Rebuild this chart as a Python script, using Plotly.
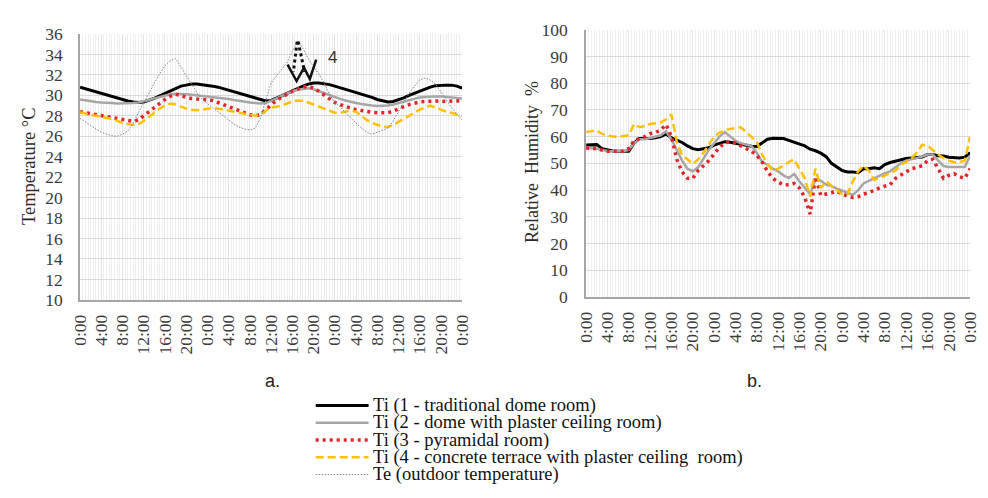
import plotly.graph_objects as go

# ---------------- data ----------------
hours = list(range(73))                     # 3 days, hourly (0 .. 72 h)
tick_hours = list(range(0, 73, 4))
tick_labels = ["0:00", "4:00", "8:00", "12:00", "16:00", "20:00"] * 3 + ["0:00"]

series_names = [
    "Ti (1 - traditional dome room)",
    "Ti (2 - dome with plaster ceiling room)",
    "Ti (3 - pyramidal room)",
    "Ti (4 - concrete terrace with plaster ceiling  room)",
    "Te (outdoor temperature)",
]

# (a) temperature, deg C
temp_ti1 = [30.8, 30.65, 30.5, 30.35, 30.2, 30.05, 29.9, 29.75, 29.55, 29.45, 29.35, 29.3, 29.35, 29.5, 29.7,
            29.95, 30.2, 30.45, 30.7, 30.9, 31.0, 31.1, 31.1, 31.05, 31.0, 30.9, 30.8, 30.65, 30.5, 30.35,
            30.2, 30.05, 29.9, 29.75, 29.6, 29.45, 29.5, 29.7, 29.95, 30.2, 30.45, 30.7, 30.9, 31.1, 31.2,
            31.2, 31.15, 31.05, 30.9, 30.75, 30.6, 30.45, 30.3, 30.1, 29.95, 29.8, 29.6, 29.45, 29.35, 29.4,
            29.55, 29.75, 30.0, 30.2, 30.45, 30.65, 30.8, 30.95, 31.0, 31.0, 31.0, 30.9, 30.7]
temp_ti2 = [29.6, 29.5, 29.4, 29.35, 29.3, 29.3, 29.25, 29.2, 29.2, 29.2, 29.25, 29.3, 29.4, 29.55, 29.7,
            29.85, 30.0, 30.1, 30.15, 30.15, 30.1, 30.05, 30.0, 29.95, 29.9, 29.85, 29.8, 29.75, 29.65, 29.55,
            29.45, 29.4, 29.3, 29.25, 29.2, 29.25, 29.45, 29.7, 29.95, 30.2, 30.4, 30.55, 30.65, 30.7, 30.6,
            30.4, 30.2, 30.0, 29.8, 29.65, 29.5, 29.35, 29.25, 29.15, 29.05, 29.0, 28.95, 28.95, 29.0, 29.1,
            29.25, 29.4, 29.55, 29.7, 29.8, 29.85, 29.9, 29.9, 29.9, 29.85, 29.8, 29.75, 29.7]
temp_ti3 = [28.4, 28.3, 28.2, 28.1, 28.0, 27.9, 27.8, 27.7, 27.6, 27.5, 27.45, 27.6, 28.0, 28.5, 28.9,
            29.3, 29.6, 29.9, 30.1, 30.0, 29.8, 29.7, 29.65, 29.6, 29.6, 29.5, 29.3, 29.1, 28.9, 28.7,
            28.5, 28.3, 28.1, 28.0, 28.1, 28.6, 29.1, 29.5, 29.8, 30.1, 30.4, 30.6, 30.8, 30.9, 30.7,
            30.4, 30.0, 29.6, 29.3, 29.1, 28.9, 28.75, 28.6, 28.5, 28.4, 28.35, 28.3, 28.3, 28.3, 28.45,
            28.7, 28.9, 29.1, 29.25, 29.35, 29.4, 29.45, 29.45, 29.4, 29.4, 29.45, 29.45, 29.5]
temp_ti4 = [28.35, 28.2, 28.1, 28.0, 27.9, 27.8, 27.7, 27.5, 27.3, 27.2, 27.1, 27.2, 27.5, 27.9, 28.3,
            28.7, 29.0, 29.2, 29.1, 28.9, 28.7, 28.6, 28.55, 28.6, 28.7, 28.75, 28.7, 28.6, 28.45, 28.35,
            28.3, 28.2, 28.1, 28.0, 28.1, 28.5, 28.8, 28.9, 29.0, 29.2, 29.4, 29.5, 29.45, 29.3, 29.1,
            28.9, 28.7, 28.5, 28.3, 28.3, 28.4, 28.5, 28.4, 28.0, 27.6, 27.3, 27.1, 26.95, 26.9, 27.1,
            27.4, 27.7, 28.0, 28.3, 28.6, 28.8, 29.0, 28.8, 28.6, 28.4, 28.3, 28.1, 28.0]
temp_te = [27.75, 27.4, 27.0, 26.7, 26.4, 26.2, 26.05, 26.0, 26.2, 26.5, 27.3, 28.3, 29.3, 30.3, 31.2,
           32.1, 32.9, 33.4, 33.6, 32.8, 31.9, 31.1, 30.3, 29.6, 29.2, 28.8, 28.4, 28.0, 27.6, 27.2,
           26.9, 26.7, 26.6, 26.8, 27.8, 29.5, 31.2, 31.9, 32.5, 33.2, 34.3, 35.3, 34.6, 33.6, 32.8,
           32.1, 31.2, 30.1, 29.3, 28.9, 28.3, 27.8, 27.2, 26.8, 26.4, 26.2, 26.4, 26.6, 26.8, 27.5,
           28.4, 29.3, 30.2, 30.9, 31.5, 31.7, 31.5, 31.1, 30.3, 29.5, 28.8, 28.2, 27.6]

# (b) relative humidity, %
rh_ti1 = [56.9, 57.0, 57.0, 55.5, 55.0, 54.6, 54.5, 54.5, 54.5, 57.6, 59.3, 59.3, 59.3, 59.6, 60.0,
          61.0, 59.5, 58.7, 57.8, 56.5, 55.5, 55.1, 55.4, 55.8, 56.8, 57.6, 58.1, 57.9, 57.5, 57.2,
          56.9, 56.4, 56.3, 57.5, 59.0, 59.4, 59.4, 59.3, 58.6, 57.8, 57.0, 56.5, 55.3, 54.7, 53.8,
          52.5, 50.0, 48.5, 47.3, 46.8, 46.8, 46.5, 48.0, 48.0, 48.3, 48.0, 49.5, 50.3, 50.8, 51.3,
          51.8, 52.0, 52.1, 52.4, 53.3, 53.3, 52.8, 52.7, 52.3, 52.1, 52.0, 52.3, 54.0]
rh_ti2 = [55.7, 55.7, 55.5, 55.0, 54.6, 54.5, 54.5, 54.5, 55.0, 57.5, 59.0, 59.0, 59.5, 60.0, 60.5,
          62.0, 59.0, 55.0, 51.0, 48.0, 47.0, 48.5, 52.0, 55.0, 57.5, 60.0, 61.7, 60.0, 58.5, 57.5,
          57.0, 56.5, 54.0, 50.5, 49.5, 48.0, 47.0, 45.5, 44.5, 46.0, 43.2, 41.0, 38.5, 44.0, 43.5,
          42.0, 41.5, 40.5, 39.6, 39.0, 38.2, 40.0, 42.5, 43.5, 44.5, 45.5, 46.3, 47.0, 48.5, 50.0,
          51.0, 51.5, 52.0, 52.5, 53.3, 53.3, 51.0, 49.0, 48.6, 48.6, 48.6, 48.6, 53.0]
rh_ti3 = [55.7, 55.7, 55.5, 55.0, 54.5, 54.5, 54.5, 54.5, 55.5, 58.5, 59.3, 60.0, 61.1, 61.5, 62.5,
          64.5, 60.0, 51.5, 46.8, 44.4, 44.4, 47.3, 49.1, 51.0, 53.5, 56.0, 57.6, 58.1, 57.6, 56.5,
          55.5, 54.5, 53.0, 50.5, 47.0, 44.4, 43.0, 41.9, 42.0, 42.5, 40.8, 37.2, 31.0, 45.0, 38.0,
          38.4, 39.0, 39.6, 38.5, 37.8, 37.2, 37.5, 38.5, 39.0, 40.0, 40.8, 41.5, 42.0, 44.4, 45.5,
          46.8, 48.0, 48.5, 49.1, 51.0, 51.5, 48.0, 44.4, 45.5, 46.1, 45.0, 44.4, 48.0]
rh_ti4 = [61.7, 62.0, 62.3, 61.0, 60.5, 60.0, 59.9, 60.2, 60.5, 64.7, 63.5, 64.0, 64.7, 65.0, 65.3,
          66.5, 68.3, 58.0, 53.0, 51.5, 49.7, 51.5, 54.0, 57.0, 60.0, 61.5, 62.3, 62.9, 63.2, 63.5,
          61.7, 60.0, 58.1, 53.3, 49.7, 47.3, 48.0, 49.1, 50.5, 51.5, 48.0, 44.4, 37.5, 48.0, 40.8,
          43.2, 41.6, 40.0, 38.4, 38.4, 43.2, 47.0, 49.1, 47.3, 43.8, 44.5, 45.5, 46.5, 47.3, 49.5,
          50.4, 52.0, 54.0, 56.9, 56.6, 55.0, 53.3, 52.0, 51.0, 50.4, 50.5, 51.0, 60.0]

# ---------------- styles ----------------
styles = [
    dict(color="#000000", width=3, dash="solid"),
    dict(color="#a6a6a6", width=2.5, dash="solid"),
    dict(color="#e3242b", width=3.5, dash="3px,4px"),
    dict(color="#ffc000", width=2.5, dash="8px,4px"),
    dict(color="#7d8894", width=1, dash="1.5px,1.5px"),
]

SERIF = "Liberation Serif, Times New Roman, DejaVu Serif, serif"
SANS = "Liberation Sans, Arial, sans-serif"

W, H = 988, 498
def px(x):
    return x / W
def py(y):
    return 1 - y / H

fig = go.Figure()
temp_series = [temp_ti1, temp_ti2, temp_ti3, temp_ti4, temp_te]
rh_series = [rh_ti1, rh_ti2, rh_ti3, rh_ti4]
for name, vals, st in zip(series_names, temp_series, styles):
    fig.add_trace(go.Scatter(x=hours, y=vals, mode="lines", name=name, line=st,
                             xaxis="x", yaxis="y", showlegend=False))
for name, vals, st in zip(series_names, rh_series, styles):
    fig.add_trace(go.Scatter(x=hours, y=vals, mode="lines", name=name, line=st,
                             xaxis="x2", yaxis="y2", showlegend=False))

tickfont = dict(family=SERIF, size=17.5, color="#3a3a3a")
axis_common = dict(showline=True, linecolor="#a6a6a6", linewidth=1.5, zeroline=False, ticks="",
                   tickfont=tickfont)
x_common = dict(axis_common, range=[0, 72], tickmode="array", tickvals=tick_hours, ticktext=tick_labels,
                tickangle=-90, showgrid=True, gridcolor="#e4e4e4", gridwidth=1, ticklabelstandoff=6,
                minor=dict(tickmode="linear", tick0=0, dtick=0.5, showgrid=True, gridcolor="#efefef",
                           gridwidth=1, ticks=""))

fig.update_layout(
    width=W, height=H, margin=dict(l=0, r=0, t=0, b=0),
    paper_bgcolor="white", plot_bgcolor="white", showlegend=False,
    xaxis=dict(x_common, domain=[px(71.5), px(461.5)], anchor="y"),
    yaxis=dict(axis_common, domain=[py(302), py(25)], range=[10, 36], dtick=2, showgrid=True,
               gridcolor="#d9d9d9", gridwidth=1.2, anchor="x", ticklabelstandoff=12),
    xaxis2=dict(x_common, domain=[px(588), px(980)], anchor="y2"),
    yaxis2=dict(axis_common, domain=[py(299), py(20.5)], range=[0, 100], dtick=10, showgrid=True,
                gridcolor="#d9d9d9", gridwidth=1.2, anchor="x2", ticklabelstandoff=13),
)

annotations = [
    dict(text="Temperature °C", x=px(20), y=py(163), textangle=-90, showarrow=False,
         xanchor="center", yanchor="middle",
         font=dict(family=SERIF, size=18.5, color="#2a2a2a"), xref="paper", yref="paper"),
    dict(text="Relative  Humidity  %", x=px(532), y=py(158), textangle=-90, showarrow=False,
         xanchor="center", yanchor="middle",
         font=dict(family=SERIF, size=18, color="#2a2a2a"), xref="paper", yref="paper"),
    dict(text="4", x=px(329), y=py(49), showarrow=False, xanchor="center", yanchor="middle",
         font=dict(family=SANS, size=17, color="#333333"), xref="paper", yref="paper"),
    dict(text="a.", x=px(268), y=py(387), showarrow=False, xanchor="center", yanchor="middle",
         font=dict(family=SANS, size=18, color="#222222"), xref="paper", yref="paper"),
    dict(text="b.", x=px(760), y=py(387), showarrow=False, xanchor="center", yanchor="middle",
         font=dict(family=SANS, size=18, color="#222222"), xref="paper", yref="paper"),
]
shapes = [
    # hand-drawn marker near Te peak (left chart)
    dict(type="path", xref="x", yref="y", path="M39.1,33.0 L40.8,31.4 L42.2,32.7 L43.3,31.6 L44.5,33.5",
         line=dict(color="#111111", width=2.5)),
    dict(type="line", xref="x", yref="y", x0=40.9, y0=35.25, x1=40.2, y1=32.3,
         line=dict(color="#111111", width=3, dash="dot")),
    dict(type="line", xref="x", yref="y", x0=41.1, y0=35.25, x1=42.3, y1=32.3,
         line=dict(color="#111111", width=3, dash="dot")),
]

legend_rows = [412, 430, 448, 466, 484]
for name, st, ry in zip(series_names, styles, legend_rows):
    shapes.append(dict(type="line", xref="paper", yref="paper", x0=px(312), x1=px(366), y0=py(ry), y1=py(ry),
                       line=st))
    annotations.append(dict(text=name, x=px(368), y=py(ry), xanchor="left", yanchor="middle", showarrow=False,
                            font=dict(family=SERIF, size=18.5, color="#111111"),
                            xref="paper", yref="paper"))

fig.update_layout(annotations=annotations, shapes=shapes)
fig.write_html("out.html")
